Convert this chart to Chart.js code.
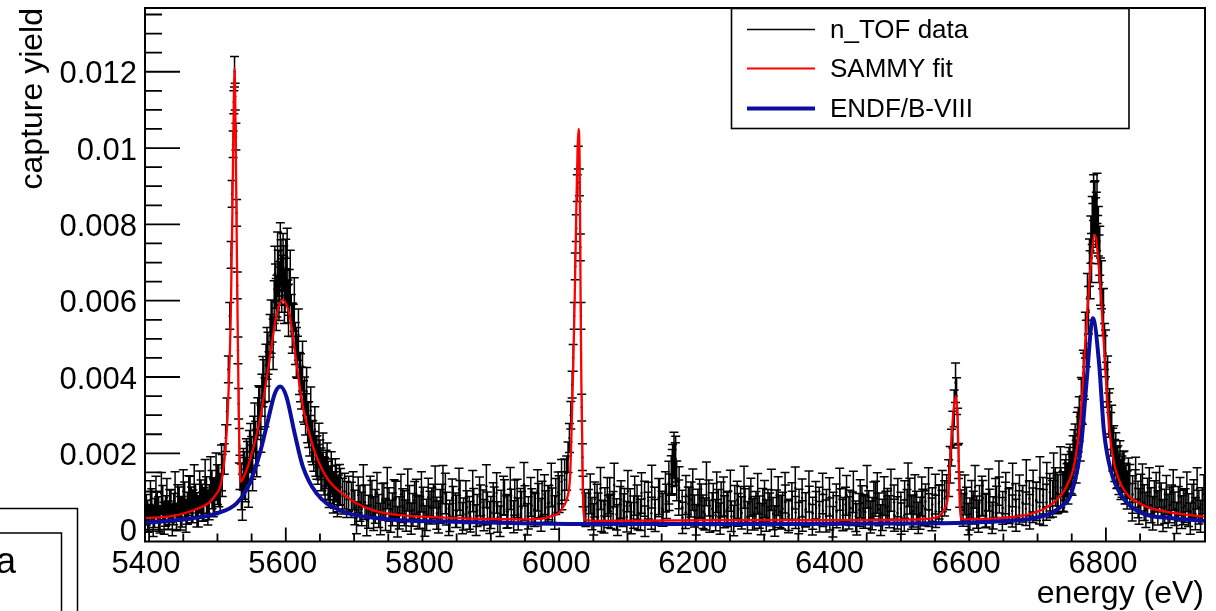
<!DOCTYPE html>
<html>
<head>
<meta charset="utf-8">
<script src="https://cdn.jsdelivr.net/npm/chart.js@4.4.0/dist/chart.umd.min.js"></script>
<style>
  html, body { margin: 0; padding: 0; background: #fff; }
  #wrap { width: 1216px; height: 611px; }
</style>
</head>
<body>
<div id="wrap"><canvas id="yieldCanvas" width="1216" height="611"></canvas></div>
<script>
// n_TOF capture data : energy (eV), yield, error
var tofE = [
  5396, 5400, 5404, 5408, 5412, 5416, 5420, 5424, 5428, 5432,
  5436, 5440, 5444, 5448, 5452, 5456, 5460, 5464, 5468, 5472,
  5476, 5480, 5484, 5488, 5492, 5496, 5500, 5504, 5507, 5510,
  5512, 5514, 5516, 5518, 5520, 5521.5, 5523, 5524, 5525, 5526,
  5527, 5528, 5529, 5530, 5531, 5532, 5533, 5535, 5538, 5541,
  5544, 5547, 5550, 5553, 5556, 5559, 5562, 5565, 5568, 5571,
  5574, 5577, 5580, 5583, 5585, 5587, 5589, 5591, 5593, 5595,
  5597, 5599, 5601, 5603, 5605, 5608, 5611, 5614, 5617, 5620,
  5623, 5626, 5629, 5632, 5635, 5638, 5641, 5644, 5647, 5650,
  5653, 5656, 5659, 5662, 5665, 5668, 5671, 5674, 5677, 5680,
  5683, 5686, 5689, 5692, 5696, 5701, 5706, 5711, 5716, 5721,
  5726, 5731, 5736, 5741, 5746, 5751, 5756, 5761, 5766, 5771,
  5776, 5781, 5786, 5791, 5796, 5801, 5806, 5811, 5816, 5821,
  5826, 5830, 5835, 5840, 5845, 5850, 5855, 5860, 5865, 5870,
  5875, 5880, 5885, 5890, 5895, 5900, 5905, 5910, 5915, 5920,
  5925, 5930, 5935, 5940, 5945, 5950, 5955, 5960, 5965, 5970,
  5975, 5980, 5985, 5990, 5995, 6000, 6004, 6008, 6011, 6013,
  6015, 6017, 6019, 6020.5, 6022, 6023.5, 6025, 6026.5, 6028, 6029.5,
  6031, 6032, 6033, 6034, 6035, 6036.5, 6039, 6043, 6048, 6052,
  6057, 6062, 6067, 6072, 6074, 6079, 6084, 6089, 6094, 6099,
  6104, 6109, 6114, 6119, 6125, 6130, 6135, 6140, 6147, 6152,
  6157, 6161, 6164, 6166, 6168, 6170, 6172, 6175, 6180, 6185,
  6189, 6193, 6198, 6203, 6208, 6213, 6219, 6224, 6229, 6233,
  6237, 6242, 6247, 6252, 6257, 6262, 6267, 6272, 6278, 6283,
  6288, 6293, 6298, 6303, 6308, 6313, 6318, 6323, 6327, 6331,
  6336, 6341, 6346, 6351, 6356, 6361, 6366, 6371, 6376, 6381,
  6386, 6391, 6396, 6401, 6406, 6411, 6415, 6419, 6424, 6429,
  6434, 6439, 6443, 6448, 6453, 6458, 6463, 6468, 6473, 6478,
  6483, 6490, 6495, 6500, 6505, 6509, 6513, 6518, 6523, 6528,
  6532, 6536, 6541, 6546, 6551, 6556, 6560, 6564, 6567, 6570,
  6572, 6574, 6576, 6578, 6580, 6581.5, 6583, 6584.5, 6586, 6588,
  6591, 6596, 6601, 6606, 6611, 6615, 6620, 6625, 6630, 6635,
  6640, 6644, 6649, 6653, 6658, 6663, 6668, 6673, 6678, 6683,
  6688, 6693, 6698, 6703, 6708, 6713, 6718, 6722, 6726, 6730,
  6734, 6737, 6740, 6743, 6746, 6749, 6752, 6755, 6758, 6761,
  6764, 6767, 6770, 6773, 6776, 6778, 6780, 6782, 6784, 6786,
  6788, 6790, 6792, 6795, 6798, 6801, 6804, 6807, 6810, 6813,
  6816, 6819, 6822, 6825, 6828, 6831, 6835, 6839, 6843, 6847,
  6851, 6856, 6861, 6866, 6871, 6876, 6881, 6886, 6891, 6896,
  6901, 6906, 6911, 6916, 6921, 6926, 6931, 6936, 6941,
  // interleaved bins
  5398, 5402, 5406, 5410, 5414, 5418, 5422, 5426, 5430, 5434,
  5438, 5442, 5446, 5450, 5454, 5458, 5462, 5466, 5470, 5474,
  5478, 5482, 5486, 5490, 5494, 5498, 5502, 5506,
  5536.5, 5539.5, 5542.5, 5545.5, 5548.5, 5551.5, 5554.5, 5557.5, 5560.5, 5563.5,
  5566.5, 5569.5, 5572.5, 5575.5, 5578.5, 5581.5, 5584, 5586, 5588, 5590,
  5592, 5594, 5596, 5598, 5600, 5602, 5604, 5606.5, 5609.5, 5612.5,
  5615.5, 5618.5, 5621.5, 5624.5, 5627.5, 5630.5, 5633.5, 5636.5, 5639.5, 5642.5,
  5645.5, 5648.5, 5651.5, 5654.5, 5657.5, 5660.5, 5663.5, 5666.5, 5669.5, 5672.5,
  5675.5, 5678.5,
  5698.5, 5703.5, 5708.5, 5713.5, 5718.5, 5723.5, 5728.5, 5733.5, 5738.5, 5743.5,
  5748.5, 5753.5, 5758.5, 5763.5, 5768.5, 5773.5, 5778.5, 5783.5, 5788.5, 5793.5,
  5798.5, 5803.5, 5808.5, 5813.5, 5818.5, 5823.5, 5828.5, 5833.5, 5838.5, 5843.5,
  5848.5, 5853.5, 5858.5, 5863.5, 5868.5, 5873.5, 5878.5, 5883.5, 5888.5, 5893.5,
  5898.5, 5903.5, 5908.5, 5913.5, 5918.5, 5923.5, 5928.5, 5933.5, 5938.5, 5943.5,
  5948.5, 5953.5, 5958.5, 5963.5, 5968.5, 5973.5, 5978.5, 5983.5, 5988.5, 5993.5,
  5998.5, 6003.5,
  6045.5, 6050.5, 6055.5, 6060.5, 6065.5, 6070.5, 6075.5, 6080.5, 6085.5, 6090.5,
  6095.5, 6100.5, 6105.5, 6110.5, 6115.5, 6120.5, 6125.5, 6130.5, 6135.5, 6140.5,
  6145.5, 6150.5, 6155.5, 6160.5, 6165.5, 6170.5, 6175.5, 6180.5, 6185.5, 6190.5,
  6195.5, 6200.5, 6205.5, 6210.5, 6215.5, 6220.5, 6225.5, 6230.5, 6235.5, 6240.5,
  6245.5, 6250.5, 6255.5, 6260.5, 6265.5, 6270.5, 6275.5, 6280.5, 6285.5, 6290.5,
  6295.5, 6300.5, 6305.5, 6310.5, 6315.5, 6320.5, 6325.5, 6330.5, 6335.5, 6340.5,
  6345.5, 6350.5, 6355.5, 6360.5, 6365.5, 6370.5, 6375.5, 6380.5, 6385.5, 6390.5,
  6395.5, 6400.5, 6405.5, 6410.5, 6415.5, 6420.5, 6425.5, 6430.5, 6435.5, 6440.5,
  6445.5, 6450.5, 6455.5, 6460.5, 6465.5, 6470.5, 6475.5, 6480.5, 6485.5, 6490.5,
  6495.5, 6500.5, 6505.5, 6510.5, 6515.5, 6520.5, 6525.5, 6530.5, 6535.5, 6540.5,
  6545.5, 6550.5, 6555.5, 6560.5,
  6593.5, 6598.5, 6603.5, 6608.5, 6613.5, 6618.5, 6623.5, 6628.5, 6633.5, 6638.5,
  6643.5, 6648.5, 6653.5, 6658.5, 6663.5, 6668.5, 6673.5, 6678.5, 6683.5, 6688.5,
  6693.5, 6698.5, 6703.5, 6708.5, 6713.5, 6718.5, 6723.5, 6728.5, 6733.5,
  6738.5, 6741.5, 6744.5, 6747.5, 6750.5, 6753.5, 6756.5, 6759.5, 6762.5, 6765.5,
  6768.5, 6771.5, 6774.5, 6777, 6779, 6781, 6783, 6785, 6787, 6789,
  6791, 6793.5, 6796.5, 6799.5, 6802.5, 6805.5, 6808.5, 6811.5, 6814.5, 6817.5,
  6820.5, 6823.5, 6826.5, 6829.5, 6833,
  6838.5, 6843.5, 6848.5, 6853.5, 6858.5, 6863.5, 6868.5, 6873.5, 6878.5, 6883.5,
  6888.5, 6893.5, 6898.5, 6903.5, 6908.5, 6913.5, 6918.5, 6923.5, 6928.5, 6933.5,
  6938.5, 6943.5
];
var tofY = [
  0.00052, 0.00031, 0.00065, 0.00044, 0.00058, 0.00027, 0.00071, 0.00049, 0.00038, 0.00062,
  0.00054, 0.00033, 0.00068, 0.00047, 0.00079, 0.00056, 0.00092, 0.00061, 0.00074, 0.00048,
  0.00083, 0.00066, 0.00091, 0.00072, 0.00105, 0.00088, 0.00118, 0.00097, 0.00142, 0.00185,
  0.00240, 0.00310, 0.00420, 0.00560, 0.00720, 0.00880, 0.01010, 0.01120, 0.01200, 0.01135,
  0.01030, 0.00830, 0.00640, 0.00470, 0.00330, 0.00220, 0.00150, 0.00112, 0.00158, 0.00131,
  0.00176, 0.00205, 0.00188, 0.00242, 0.00226, 0.00291, 0.00318, 0.00352, 0.00389, 0.00431,
  0.00462, 0.00508, 0.00547, 0.00596, 0.00638, 0.00612, 0.00672, 0.00645, 0.00698, 0.00661,
  0.00684, 0.00627, 0.00651, 0.00598, 0.00622, 0.00561, 0.00535, 0.00488, 0.00452, 0.00409,
  0.00371, 0.00336, 0.00302, 0.00281, 0.00246, 0.00231, 0.00205, 0.00192, 0.00171, 0.00183,
  0.00152, 0.00141, 0.00158, 0.00129, 0.00118, 0.00136, 0.00104, 0.00121, 0.00095, 0.00112,
  0.00088, 0.00101, 0.00079, 0.00094, 0.00078, 0.00058, 0.00091, 0.00054, 0.00072, 0.00047,
  0.00083, 0.00061, 0.00049, 0.00076, 0.00040, 0.00066, 0.00053, 0.00081, 0.00044, 0.00063,
  0.00037, 0.00071, 0.00052, 0.00086, 0.00045, 0.00067, 0.00039, 0.00058, 0.00074, 0.00043,
  0.00061, 0.00118, 0.00055, 0.00036, 0.00069, 0.00048, 0.00083, 0.00041, 0.00059, 0.00034,
  0.00064, 0.00050, 0.00072, 0.00038, 0.00056, 0.00045, 0.00068, 0.00033, 0.00060, 0.00085,
  0.00047, 0.00062, 0.00084, 0.00041, 0.00057, 0.00070, 0.00044, 0.00063, 0.00052, 0.00076,
  0.00081, 0.00058, 0.00071, 0.00064, 0.00087, 0.00093, 0.00102, 0.00131, 0.00148, 0.00190,
  0.00240, 0.00300, 0.00380, 0.00450, 0.00560, 0.00690, 0.00790, 0.00895, 0.00975, 0.00910,
  0.00740, 0.00560, 0.00320, 0.00190, 0.00100, 0.00060, 0.00052, 0.00061, 0.00042, 0.00079,
  0.00053, 0.00036, 0.00066, 0.00048, 0.00089, 0.00057, 0.00040, 0.00069, 0.00051, 0.00034,
  0.00063, 0.00046, 0.00072, 0.00039, 0.00081, 0.00055, 0.00043, 0.00067, 0.00087, 0.00052,
  0.00074, 0.00098, 0.00142, 0.00168, 0.00195, 0.00172, 0.00128, 0.00084, 0.00059, 0.00045,
  0.00068, 0.00079, 0.00049, 0.00062, 0.00075, 0.00041, 0.00083, 0.00054, 0.00038, 0.00061,
  0.00079, 0.00047, 0.00058, 0.00035, 0.00071, 0.00052, 0.00044, 0.00063, 0.00069, 0.00040,
  0.00057, 0.00046, 0.00064, 0.00037, 0.00053, 0.00042, 0.00060, 0.00048, 0.00055, 0.00072,
  0.00039, 0.00058, 0.00045, 0.00062, 0.00036, 0.00054, 0.00069, 0.00043, 0.00057, 0.00034,
  0.00050, 0.00061, 0.00041, 0.00055, 0.00047, 0.00063, 0.00038, 0.00066, 0.00044, 0.00056,
  0.00035, 0.00052, 0.00070, 0.00046, 0.00059, 0.00042, 0.00081, 0.00053, 0.00039, 0.00058,
  0.00047, 0.00072, 0.00044, 0.00055, 0.00037, 0.00061, 0.00088, 0.00049, 0.00058, 0.00043,
  0.00062, 0.00074, 0.00051, 0.00066, 0.00048, 0.00073, 0.00059, 0.00082, 0.00098, 0.00135,
  0.00170, 0.00215, 0.00262, 0.00318, 0.00385, 0.00350, 0.00270, 0.00180, 0.00105, 0.00060,
  0.00052, 0.00067, 0.00041, 0.00058, 0.00046, 0.00071, 0.00083, 0.00050, 0.00062, 0.00044,
  0.00069, 0.00091, 0.00057, 0.00078, 0.00063, 0.00049, 0.00076, 0.00058, 0.00071, 0.00055,
  0.00082, 0.00064, 0.00078, 0.00061, 0.00089, 0.00072, 0.00098, 0.00081, 0.00112, 0.00094,
  0.00110, 0.00100, 0.00130, 0.00120, 0.00160, 0.00150, 0.00190, 0.00220, 0.00250, 0.00290,
  0.00340, 0.00410, 0.00510, 0.00610, 0.00700, 0.00760, 0.00810, 0.00870, 0.00850, 0.00820,
  0.00760, 0.00710, 0.00650, 0.00570, 0.00480, 0.00380, 0.00300, 0.00250, 0.00210, 0.00181,
  0.00162, 0.00145, 0.00131, 0.00152, 0.00118, 0.00104, 0.00121, 0.00092, 0.00108, 0.00079,
  0.00097, 0.00071, 0.00088, 0.00064, 0.00082, 0.00057, 0.00076, 0.00061, 0.00049, 0.00072,
  0.00055, 0.00068, 0.00046, 0.00063, 0.00051, 0.00074, 0.00042, 0.00059, 0.00066,
  // interleaved bins
  0.00035, 0.00078, 0.00022, 0.00088, 0.00041, 0.00095, 0.00030, 0.00084, 0.00059, 0.00025,
  0.00097, 0.00070, 0.00043, 0.00101, 0.00036, 0.00089, 0.00065, 0.00112, 0.00052, 0.00099,
  0.00071, 0.00124, 0.00058, 0.00131, 0.00084, 0.00139, 0.00115, 0.00162,
  0.00085, 0.00142, 0.00178, 0.00121, 0.00215, 0.00162, 0.00268, 0.00201, 0.00312, 0.00265,
  0.00388, 0.00334, 0.00462, 0.00401, 0.00532, 0.00486, 0.00671, 0.00590, 0.00705, 0.00618,
  0.00728, 0.00640, 0.00702, 0.00610, 0.00688, 0.00715, 0.00575, 0.00660, 0.00528, 0.00590,
  0.00465, 0.00511, 0.00398, 0.00429, 0.00338, 0.00362, 0.00275, 0.00312, 0.00228, 0.00262,
  0.00189, 0.00221, 0.00158, 0.00196, 0.00133, 0.00171, 0.00112, 0.00149, 0.00097, 0.00132,
  0.00086, 0.00118,
  0.00102, 0.00031, 0.00069, 0.00115, 0.00024, 0.00088, 0.00042, 0.00097, 0.00028, 0.00074,
  0.00109, 0.00035, 0.00081, 0.00021, 0.00093, 0.00056, 0.00104, 0.00029, 0.00077, 0.00046,
  0.00099, 0.00023, 0.00085, 0.00062, 0.00112, 0.00033, 0.00071, 0.00095, 0.00026, 0.00083,
  0.00051, 0.00106, 0.00030, 0.00079, 0.00044, 0.00101, 0.00025, 0.00087, 0.00058, 0.00114,
  0.00032, 0.00075, 0.00096, 0.00022, 0.00089, 0.00048, 0.00108, 0.00034, 0.00082, 0.00061,
  0.00119, 0.00027, 0.00086, 0.00053, 0.00103, 0.00039, 0.00092, 0.00068, 0.00117, 0.00045,
  0.00098, 0.00126,
  0.00094, 0.00027, 0.00071, 0.00108, 0.00033, 0.00086, 0.00048, 0.00117, 0.00025, 0.00079,
  0.00062, 0.00101, 0.00030, 0.00089, 0.00044, 0.00096, 0.00022, 0.00076, 0.00113, 0.00037,
  0.00084, 0.00055, 0.00099, 0.00123, 0.00152, 0.00185, 0.00110, 0.00031, 0.00091, 0.00064,
  0.00105, 0.00026, 0.00082, 0.00047, 0.00120, 0.00035, 0.00073, 0.00098, 0.00029, 0.00087,
  0.00053, 0.00102, 0.00024, 0.00078, 0.00066, 0.00111, 0.00032, 0.00085, 0.00043, 0.00094,
  0.00028, 0.00080, 0.00059, 0.00104, 0.00023, 0.00088, 0.00046, 0.00097, 0.00034, 0.00075,
  0.00109, 0.00030, 0.00083, 0.00052, 0.00100, 0.00026, 0.00077, 0.00064, 0.00095, 0.00036,
  0.00086, 0.00021, 0.00072, 0.00106, 0.00041, 0.00090, 0.00057, 0.00099, 0.00027, 0.00081,
  0.00048, 0.00112, 0.00033, 0.00076, 0.00096, 0.00025, 0.00088, 0.00061, 0.00103, 0.00038,
  0.00084, 0.00029, 0.00079, 0.00118, 0.00045, 0.00092, 0.00031, 0.00087, 0.00056, 0.00107,
  0.00040, 0.00093, 0.00068, 0.00101,
  0.00091, 0.00028, 0.00079, 0.00112, 0.00035, 0.00088, 0.00050, 0.00104, 0.00031, 0.00083,
  0.00122, 0.00041, 0.00096, 0.00063, 0.00117, 0.00038, 0.00090, 0.00068, 0.00125, 0.00047,
  0.00101, 0.00074, 0.00131, 0.00058, 0.00118, 0.00083, 0.00141, 0.00096, 0.00155,
  0.00098, 0.00142, 0.00121, 0.00168, 0.00145, 0.00205, 0.00178, 0.00262, 0.00238, 0.00335,
  0.00402, 0.00488, 0.00575, 0.00668, 0.00712, 0.00790, 0.00845, 0.00805, 0.00868, 0.00782,
  0.00731, 0.00642, 0.00570, 0.00462, 0.00395, 0.00310, 0.00268, 0.00215, 0.00198, 0.00165,
  0.00178, 0.00139, 0.00152, 0.00121, 0.00135,
  0.00072, 0.00135, 0.00061, 0.00118, 0.00052, 0.00109, 0.00043, 0.00098, 0.00112, 0.00037,
  0.00091, 0.00065, 0.00104, 0.00031, 0.00087, 0.00058, 0.00099, 0.00029, 0.00082, 0.00108,
  0.00035, 0.00093
];
var tofErr = [
  0.00040, 0.00035, 0.00042, 0.00038, 0.00040, 0.00036, 0.00045, 0.00040, 0.00037, 0.00042,
  0.00041, 0.00036, 0.00044, 0.00040, 0.00046, 0.00042, 0.00048, 0.00043, 0.00045, 0.00041,
  0.00047, 0.00044, 0.00048, 0.00046, 0.00050, 0.00048, 0.00052, 0.00050, 0.00055, 0.00040,
  0.00035, 0.00035, 0.00035, 0.00035, 0.00035, 0.00035, 0.00035, 0.00030, 0.00040, 0.00035,
  0.00035, 0.00035, 0.00035, 0.00035, 0.00040, 0.00045, 0.00045, 0.00060, 0.00055, 0.00058,
  0.00055, 0.00055, 0.00056, 0.00055, 0.00058, 0.00055, 0.00055, 0.00055, 0.00056, 0.00055,
  0.00055, 0.00056, 0.00055, 0.00056, 0.00058, 0.00055, 0.00060, 0.00057, 0.00062, 0.00058,
  0.00060, 0.00057, 0.00060, 0.00056, 0.00060, 0.00055, 0.00056, 0.00055, 0.00055, 0.00055,
  0.00055, 0.00054, 0.00054, 0.00053, 0.00053, 0.00053, 0.00052, 0.00052, 0.00052, 0.00052,
  0.00050, 0.00050, 0.00050, 0.00050, 0.00049, 0.00049, 0.00048, 0.00048, 0.00048, 0.00048,
  0.00047, 0.00047, 0.00047, 0.00046, 0.00046, 0.00045, 0.00047, 0.00044, 0.00045, 0.00043,
  0.00046, 0.00044, 0.00043, 0.00045, 0.00042, 0.00044, 0.00043, 0.00046, 0.00042, 0.00044,
  0.00041, 0.00045, 0.00043, 0.00046, 0.00042, 0.00044, 0.00041, 0.00043, 0.00045, 0.00042,
  0.00044, 0.00050, 0.00043, 0.00041, 0.00044, 0.00042, 0.00046, 0.00042, 0.00043, 0.00040,
  0.00044, 0.00042, 0.00045, 0.00041, 0.00043, 0.00042, 0.00044, 0.00040, 0.00043, 0.00046,
  0.00042, 0.00044, 0.00046, 0.00042, 0.00043, 0.00045, 0.00042, 0.00044, 0.00043, 0.00045,
  0.00046, 0.00044, 0.00045, 0.00045, 0.00047, 0.00048, 0.00050, 0.00054, 0.00045, 0.00040,
  0.00038, 0.00036, 0.00035, 0.00035, 0.00035, 0.00035, 0.00035, 0.00035, 0.00030, 0.00035,
  0.00035, 0.00035, 0.00035, 0.00035, 0.00040, 0.00045, 0.00044, 0.00044, 0.00042, 0.00046,
  0.00043, 0.00041, 0.00044, 0.00042, 0.00047, 0.00043, 0.00041, 0.00044, 0.00043, 0.00040,
  0.00044, 0.00042, 0.00045, 0.00041, 0.00046, 0.00043, 0.00042, 0.00044, 0.00047, 0.00043,
  0.00045, 0.00048, 0.00052, 0.00055, 0.00060, 0.00056, 0.00052, 0.00046, 0.00044, 0.00042,
  0.00044, 0.00046, 0.00042, 0.00044, 0.00045, 0.00042, 0.00047, 0.00043, 0.00041, 0.00044,
  0.00046, 0.00042, 0.00043, 0.00040, 0.00045, 0.00043, 0.00042, 0.00044, 0.00045, 0.00041,
  0.00043, 0.00042, 0.00044, 0.00041, 0.00043, 0.00042, 0.00044, 0.00042, 0.00043, 0.00045,
  0.00041, 0.00043, 0.00042, 0.00044, 0.00040, 0.00043, 0.00045, 0.00042, 0.00043, 0.00040,
  0.00042, 0.00044, 0.00042, 0.00043, 0.00042, 0.00044, 0.00041, 0.00045, 0.00042, 0.00043,
  0.00040, 0.00043, 0.00045, 0.00042, 0.00043, 0.00042, 0.00046, 0.00043, 0.00041, 0.00043,
  0.00042, 0.00045, 0.00042, 0.00043, 0.00041, 0.00044, 0.00047, 0.00042, 0.00043, 0.00042,
  0.00044, 0.00046, 0.00043, 0.00044, 0.00042, 0.00045, 0.00044, 0.00046, 0.00046, 0.00048,
  0.00048, 0.00048, 0.00048, 0.00048, 0.00052, 0.00048, 0.00048, 0.00046, 0.00046, 0.00044,
  0.00043, 0.00044, 0.00042, 0.00043, 0.00042, 0.00045, 0.00046, 0.00043, 0.00044, 0.00042,
  0.00045, 0.00047, 0.00043, 0.00046, 0.00044, 0.00042, 0.00045, 0.00044, 0.00045, 0.00044,
  0.00046, 0.00045, 0.00047, 0.00046, 0.00048, 0.00047, 0.00049, 0.00048, 0.00050, 0.00050,
  0.00052, 0.00052, 0.00053, 0.00053, 0.00055, 0.00055, 0.00056, 0.00057, 0.00058, 0.00058,
  0.00059, 0.00060, 0.00060, 0.00061, 0.00062, 0.00062, 0.00063, 0.00060, 0.00064, 0.00064,
  0.00063, 0.00062, 0.00062, 0.00061, 0.00060, 0.00059, 0.00058, 0.00057, 0.00056, 0.00055,
  0.00054, 0.00053, 0.00052, 0.00052, 0.00051, 0.00050, 0.00050, 0.00049, 0.00049, 0.00048,
  0.00048, 0.00047, 0.00047, 0.00046, 0.00046, 0.00045, 0.00046, 0.00045, 0.00044, 0.00045,
  0.00044, 0.00045, 0.00043, 0.00044, 0.00043, 0.00045, 0.00042, 0.00044, 0.00044,
  // interleaved bins
  0.00042, 0.00050, 0.00040, 0.00052, 0.00045, 0.00055, 0.00042, 0.00050, 0.00046, 0.00041,
  0.00055, 0.00048, 0.00044, 0.00056, 0.00043, 0.00052, 0.00047, 0.00058, 0.00045, 0.00055,
  0.00048, 0.00060, 0.00046, 0.00060, 0.00050, 0.00062, 0.00055, 0.00060,
  0.00060, 0.00062, 0.00060, 0.00062, 0.00063, 0.00060, 0.00064, 0.00062, 0.00065, 0.00062,
  0.00066, 0.00064, 0.00068, 0.00065, 0.00070, 0.00066, 0.00072, 0.00068, 0.00075, 0.00070,
  0.00076, 0.00070, 0.00074, 0.00070, 0.00073, 0.00075, 0.00068, 0.00072, 0.00066, 0.00070,
  0.00065, 0.00067, 0.00063, 0.00065, 0.00062, 0.00063, 0.00060, 0.00062, 0.00058, 0.00060,
  0.00057, 0.00058, 0.00056, 0.00057, 0.00055, 0.00056, 0.00054, 0.00055, 0.00053, 0.00054,
  0.00052, 0.00053,
  0.00050, 0.00042, 0.00047, 0.00055, 0.00040, 0.00052, 0.00044, 0.00053, 0.00041, 0.00048,
  0.00054, 0.00042, 0.00050, 0.00040, 0.00052, 0.00046, 0.00055, 0.00041, 0.00049, 0.00044,
  0.00053, 0.00040, 0.00050, 0.00047, 0.00055, 0.00042, 0.00048, 0.00053, 0.00041, 0.00050,
  0.00045, 0.00055, 0.00041, 0.00049, 0.00043, 0.00054, 0.00040, 0.00051, 0.00046, 0.00056,
  0.00042, 0.00048, 0.00053, 0.00040, 0.00051, 0.00044, 0.00055, 0.00042, 0.00050, 0.00047,
  0.00057, 0.00041, 0.00051, 0.00045, 0.00054, 0.00043, 0.00052, 0.00048, 0.00057, 0.00044,
  0.00053, 0.00058,
  0.00052, 0.00041, 0.00048, 0.00055, 0.00042, 0.00051, 0.00045, 0.00057, 0.00040, 0.00049,
  0.00046, 0.00054, 0.00041, 0.00051, 0.00044, 0.00053, 0.00040, 0.00048, 0.00056, 0.00042,
  0.00050, 0.00046, 0.00053, 0.00056, 0.00058, 0.00060, 0.00055, 0.00041, 0.00051, 0.00047,
  0.00054, 0.00040, 0.00050, 0.00044, 0.00057, 0.00042, 0.00048, 0.00053, 0.00041, 0.00051,
  0.00045, 0.00054, 0.00040, 0.00049, 0.00047, 0.00055, 0.00042, 0.00050, 0.00044, 0.00053,
  0.00041, 0.00049, 0.00046, 0.00054, 0.00040, 0.00051, 0.00044, 0.00053, 0.00042, 0.00048,
  0.00055, 0.00041, 0.00050, 0.00045, 0.00054, 0.00040, 0.00049, 0.00047, 0.00053, 0.00042,
  0.00050, 0.00040, 0.00048, 0.00055, 0.00043, 0.00052, 0.00046, 0.00054, 0.00041, 0.00050,
  0.00044, 0.00056, 0.00042, 0.00049, 0.00053, 0.00040, 0.00051, 0.00047, 0.00055, 0.00042,
  0.00050, 0.00041, 0.00049, 0.00057, 0.00044, 0.00052, 0.00041, 0.00051, 0.00046, 0.00055,
  0.00043, 0.00052, 0.00048, 0.00054,
  0.00052, 0.00041, 0.00050, 0.00056, 0.00042, 0.00052, 0.00045, 0.00055, 0.00041, 0.00051,
  0.00058, 0.00043, 0.00054, 0.00047, 0.00057, 0.00042, 0.00053, 0.00048, 0.00058, 0.00045,
  0.00055, 0.00050, 0.00060, 0.00047, 0.00058, 0.00052, 0.00060, 0.00054, 0.00062,
  0.00052, 0.00055, 0.00054, 0.00056, 0.00055, 0.00057, 0.00056, 0.00058, 0.00058, 0.00059,
  0.00060, 0.00061, 0.00062, 0.00063, 0.00064, 0.00065, 0.00066, 0.00065, 0.00066, 0.00065,
  0.00064, 0.00063, 0.00062, 0.00061, 0.00060, 0.00059, 0.00058, 0.00057, 0.00056, 0.00055,
  0.00055, 0.00054, 0.00054, 0.00053, 0.00053,
  0.00049, 0.00055, 0.00047, 0.00054, 0.00046, 0.00053, 0.00044, 0.00052, 0.00054, 0.00042,
  0.00051, 0.00047, 0.00053, 0.00041, 0.00050, 0.00045, 0.00052, 0.00041, 0.00049, 0.00054,
  0.00042, 0.00051
];

// SAMMY fit
var fitE = [
  5394, 5435, 5465, 5489, 5499, 5504, 5508, 5511, 5514, 5517,
  5519.5, 5522, 5524, 5525, 5526, 5528, 5529.5, 5531, 5532, 5533,
  5534.5, 5539, 5547.5, 5562, 5574, 5586, 5595, 5606, 5615, 5625,
  5640, 5659, 5689, 5727, 5767, 5800, 5850, 5900, 5950, 5975,
  5990, 5999, 6006, 6012, 6016, 6018, 6020.5, 6022.7, 6025, 6027,
  6028.5, 6030, 6031.4, 6032.5, 6033.6, 6034.5, 6036, 6039, 6060, 6150,
  6250, 6350, 6450, 6500, 6534, 6554, 6564, 6569, 6573, 6577,
  6580.5, 6583, 6584.5, 6586, 6588, 6594, 6644, 6693, 6722, 6742,
  6754, 6763, 6770.5, 6778, 6784, 6790, 6797, 6805, 6812, 6824,
  6849, 6888, 6945
];
var fitY = [
  0.00030, 0.00036, 0.00051, 0.00073, 0.00095, 0.00112, 0.00150, 0.00200, 0.00270, 0.00400,
  0.00560, 0.00850, 0.01130, 0.01210, 0.01130, 0.00800, 0.00550, 0.00330, 0.00220, 0.00145,
  0.00126, 0.00140, 0.00182, 0.00287, 0.00418, 0.00558, 0.00602, 0.00558, 0.00444, 0.00322,
  0.00217, 0.00139, 0.00086, 0.00051, 0.00038, 0.00034, 0.00030, 0.00028, 0.00027, 0.00029,
  0.00036, 0.00043, 0.00060, 0.00085, 0.00140, 0.00250, 0.00420, 0.00600, 0.00830, 0.01000,
  0.01050, 0.00960, 0.00600, 0.00380, 0.00250, 0.00120, 0.00040, 0.00025, 0.00023, 0.00024,
  0.00025, 0.00025, 0.00025, 0.00026, 0.00028, 0.00034, 0.00055, 0.00090, 0.00210, 0.00310,
  0.00350, 0.00290, 0.00190, 0.00080, 0.00030, 0.00027, 0.00030, 0.00043, 0.00069, 0.00112,
  0.00174, 0.00296, 0.00505, 0.00698, 0.00772, 0.00680, 0.00488, 0.00261, 0.00174, 0.00112,
  0.00069, 0.00047, 0.00034
];

// ENDF/B-VIII
var endfE = [
  5394, 5434, 5464, 5499, 5528, 5547, 5562, 5574, 5584, 5592,
  5601, 5613, 5625, 5645, 5679, 5728, 5767, 5844, 5944, 6044,
  6194, 6344, 6494, 6594, 6644, 6694, 6731, 6751, 6764, 6771.5,
  6781, 6790, 6797, 6807, 6824, 6853, 6897, 6945
];
var endfY = [
  0.00018, 0.00024, 0.00030, 0.00043, 0.00069, 0.00121, 0.00200, 0.00287, 0.00357, 0.00375,
  0.00348, 0.00252, 0.00165, 0.00095, 0.00051, 0.00031, 0.00025, 0.00021, 0.00017, 0.00015,
  0.00015, 0.00015, 0.00016, 0.00018, 0.00022, 0.00030, 0.00056, 0.00104, 0.00226, 0.00383,
  0.00554, 0.00436, 0.00261, 0.00156, 0.00086, 0.00043, 0.00030, 0.00023
];

var xTickValues = [5400, 5600, 5800, 6000, 6200, 6400, 6600, 6800];
var xTickLabels = ["5400", "5600", "5800", "6000", "6200", "6400", "6600", "6800"];
var yTickValues = [0, 0.002, 0.004, 0.006, 0.008, 0.01, 0.012];
var yTickLabels = ["0", "0.002", "0.004", "0.006", "0.008", "0.01", "0.012"];
var legendLabels = ["n_TOF data", "SAMMY fit", "ENDF/B-VIII"];

var FONT = '"Liberation Sans", Arial, Helvetica, sans-serif';
var RED = "#ff0000";
var BLUE = "#0c0f9e";

function toPoints(xs, ys) {
  var pts = [];
  for (var i = 0; i < xs.length; i++) pts.push({ x: xs[i], y: ys[i] });
  return pts;
}

// error bars, frame, ticks, titles and legend, ROOT style
var rootStyle = {
  id: "rootStyle",
  beforeDatasetsDraw: function (chart) {
    var ctx = chart.ctx, xs = chart.scales.x, ys = chart.scales.y, a = chart.chartArea;
    var n = Math.min(tofE.length, tofY.length, tofErr.length);
    ctx.save();
    ctx.beginPath();
    ctx.rect(a.left, a.top, a.right - a.left, a.bottom - a.top);
    ctx.clip();
    ctx.strokeStyle = "#000";
    ctx.lineWidth = 1.5;
    ctx.beginPath();
    for (var i = 0; i < n; i++) {
      var px = xs.getPixelForValue(tofE[i]);
      var yt = ys.getPixelForValue(tofY[i] + tofErr[i]);
      var yb = ys.getPixelForValue(tofY[i] - tofErr[i]);
      ctx.moveTo(px, yt); ctx.lineTo(px, yb);
      ctx.moveTo(px - 4.5, yt); ctx.lineTo(px + 4.5, yt);
      ctx.moveTo(px - 4.5, yb); ctx.lineTo(px + 4.5, yb);
    }
    ctx.stroke();
    ctx.restore();
  },
  afterDatasetsDraw: function (chart) {
    var ctx = chart.ctx, xs = chart.scales.x, ys = chart.scales.y, a = chart.chartArea;
    var i, k, v, len;
    ctx.save();

    // frame
    ctx.strokeStyle = "#000";
    ctx.lineWidth = 2;
    ctx.strokeRect(a.left, a.top, a.right - a.left, a.bottom - a.top);

    // ticks (inside the frame)
    ctx.lineWidth = 1.8;
    ctx.beginPath();
    for (k = 0; k <= 40; k++) {
      v = 5400 + k * 50;
      if (v > xs.max) break;
      len = (k % 4 === 0) ? 14 : 8;
      var tx = xs.getPixelForValue(v);
      ctx.moveTo(tx, a.bottom); ctx.lineTo(tx, a.bottom - len);
    }
    for (k = 0; k <= 40; k++) {
      v = k * 0.0005;
      if (v > ys.max) break;
      len = (k % 4 === 0) ? 35 : 17;
      var ty = ys.getPixelForValue(v);
      ctx.moveTo(a.left, ty); ctx.lineTo(a.left + len, ty);
    }
    ctx.stroke();

    // tick labels
    ctx.fillStyle = "#000";
    ctx.font = "31px " + FONT;
    ctx.textAlign = "right";
    ctx.textBaseline = "middle";
    for (i = 0; i < yTickValues.length; i++) {
      ctx.fillText(yTickLabels[i], a.left - 8, ys.getPixelForValue(yTickValues[i]) + 3);
    }
    ctx.textAlign = "center";
    ctx.textBaseline = "alphabetic";
    for (i = 0; i < xTickValues.length; i++) {
      ctx.fillText(xTickLabels[i], xs.getPixelForValue(xTickValues[i]) - 3, 573);
    }

    // axis titles
    ctx.font = "32px " + FONT;
    ctx.textAlign = "right";
    ctx.fillText("energy (eV)", a.right - 1, 603);
    ctx.save();
    ctx.translate(42, 8);
    ctx.rotate(-Math.PI / 2);
    ctx.fillText("capture yield", 0, 0);
    ctx.restore();

    // legend
    var lx = 731.5, ly = 8.5, lw = 397.5, lh = 120;
    ctx.fillStyle = "#fff";
    ctx.fillRect(lx, ly, lw, lh);
    ctx.strokeStyle = "#000";
    ctx.lineWidth = 1.6;
    ctx.strokeRect(lx, ly, lw, lh);
    var rowsY = [29.5, 68.5, 108.5];
    var cols = ["#000", RED, BLUE];
    var widths = [1.5, 2, 4];
    ctx.font = "26px " + FONT;
    ctx.textAlign = "left";
    ctx.textBaseline = "alphabetic";
    for (i = 0; i < legendLabels.length; i++) {
      ctx.strokeStyle = cols[i];
      ctx.lineWidth = widths[i];
      ctx.beginPath();
      ctx.moveTo(747, rowsY[i]); ctx.lineTo(815, rowsY[i]);
      ctx.stroke();
      ctx.fillStyle = "#000";
      ctx.fillText(legendLabels[i], 830, rowsY[i] + 8.5);
    }

    // leftover box of a neighbouring legend, bottom left
    ctx.strokeStyle = "#000";
    ctx.lineWidth = 1.5;
    ctx.beginPath();
    ctx.moveTo(0, 508.5); ctx.lineTo(77.5, 508.5); ctx.lineTo(77.5, 611);
    ctx.moveTo(0, 533); ctx.lineTo(61.5, 533); ctx.lineTo(61.5, 611);
    ctx.stroke();
    ctx.fillStyle = "#000";
    ctx.font = "36px " + FONT;
    ctx.textAlign = "right";
    ctx.fillText("a", 16, 573);

    ctx.restore();
  }
};

var yieldChart = new Chart(document.getElementById("yieldCanvas"), {
  type: "scatter",
  data: {
    datasets: [
      {
        label: "ENDF/B-VIII",
        data: toPoints(endfE, endfY),
        showLine: true,
        borderColor: BLUE,
        borderWidth: 4,
        pointRadius: 0,
        cubicInterpolationMode: "monotone",
        order: 1
      },
      {
        label: "SAMMY fit",
        data: toPoints(fitE, fitY),
        showLine: true,
        borderColor: RED,
        borderWidth: 2.3,
        pointRadius: 0,
        cubicInterpolationMode: "monotone",
        order: 2
      },
      {
        label: "n_TOF data",
        data: toPoints(tofE, tofY),
        showLine: false,
        pointRadius: 1.2,
        pointBackgroundColor: "#000",
        pointBorderWidth: 0,
        order: 3
      }
    ]
  },
  options: {
    responsive: false,
    animation: false,
    devicePixelRatio: 1,
    events: [],
    layout: { padding: { left: 145, right: 11, top: 8, bottom: 69.5 } },
    scales: {
      x: { type: "linear", min: 5394, max: 6945, display: false },
      y: { type: "linear", min: -0.00031, max: 0.01367, display: false }
    },
    plugins: {
      legend: { display: false },
      tooltip: { enabled: false }
    }
  },
  plugins: [rootStyle]
});
</script>
</body>
</html>
